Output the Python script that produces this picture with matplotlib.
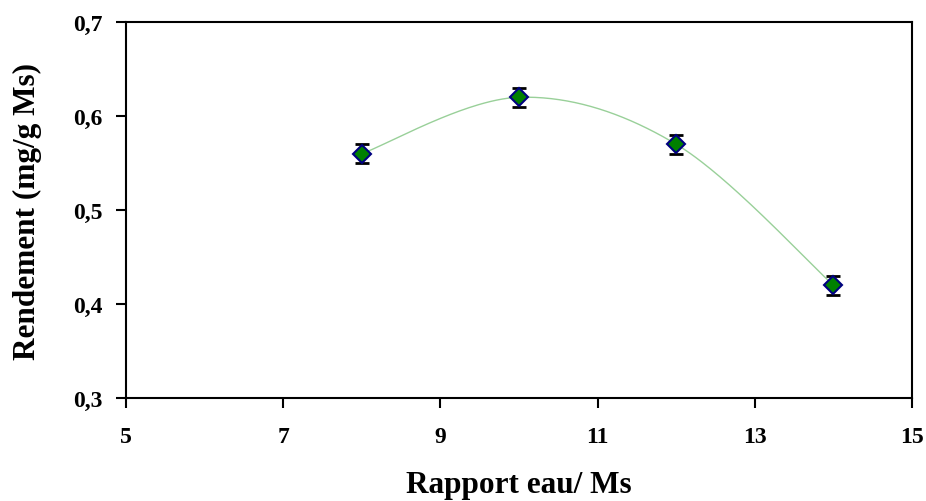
import numpy as np
import matplotlib.pyplot as plt
from matplotlib.ticker import FuncFormatter

plt.rcParams['font.family'] = ['Liberation Serif', 'DejaVu Serif']
plt.rcParams['font.weight'] = 'bold'

rapport = [8, 10, 12, 14]
rendement = [0.56, 0.62, 0.57, 0.42]
erreur = [0.01, 0.01, 0.01, 0.01]


def smooth(x, y, n=60):
    # bezier smoothing like the spreadsheet "smoothed line" option
    px = np.array([x[0]] + list(x) + [x[-1]], dtype=float)
    py = np.array([y[0]] + list(y) + [y[-1]], dtype=float)
    xs, ys = [], []
    t = np.linspace(0, 1, n)
    for i in range(1, len(px) - 2):
        p0 = np.array([px[i], py[i]])
        p3 = np.array([px[i + 1], py[i + 1]])
        p1 = p0 + (np.array([px[i + 1], py[i + 1]]) - np.array([px[i - 1], py[i - 1]])) / 6
        p2 = p3 - (np.array([px[i + 2], py[i + 2]]) - np.array([px[i], py[i]])) / 6
        b = ((1 - t) ** 3)[:, None] * p0 + (3 * (1 - t) ** 2 * t)[:, None] * p1 \
            + (3 * (1 - t) * t ** 2)[:, None] * p2 + (t ** 3)[:, None] * p3
        xs.extend(b[:, 0])
        ys.extend(b[:, 1])
    return xs, ys


fig = plt.figure(figsize=(9.26, 5.02), dpi=100)
ax = fig.add_axes([0.136, 0.205, 0.849, 0.749])

sx, sy = smooth(rapport, rendement)
ax.plot(sx, sy, color='#99d099', lw=1, zorder=2)
ax.errorbar(rapport, rendement, yerr=erreur, fmt='none', ecolor='black',
            elinewidth=1.2, capsize=5, capthick=2, zorder=3)
ax.plot(rapport, rendement, 'D', color='#008000', markeredgecolor='#000080',
        markeredgewidth=1.5, markersize=9, zorder=4)

ax.set_xlim(5, 15)
ax.set_ylim(0.3, 0.7)
ax.set_xticks([5, 7, 9, 11, 13, 15])
ax.set_yticks([0.3, 0.4, 0.5, 0.6, 0.7])
ax.yaxis.set_major_formatter(FuncFormatter(lambda v, p: ('%.1f' % v).replace('.', ',')))
ax.tick_params(direction='out', length=7, width=1.5, labelsize=17)
ax.tick_params(axis='x', pad=13)
ax.tick_params(axis='y', pad=10)
for s in ax.spines.values():
    s.set_linewidth(1.5)

ax.set_xlabel('Rapport eau/ Ms', fontsize=22.5, fontweight='bold', labelpad=17)
ax.set_ylabel('Rendement (mg/g Ms)', fontsize=22.5, fontweight='bold', labelpad=22)

fig.savefig('out.png', dpi=100)
